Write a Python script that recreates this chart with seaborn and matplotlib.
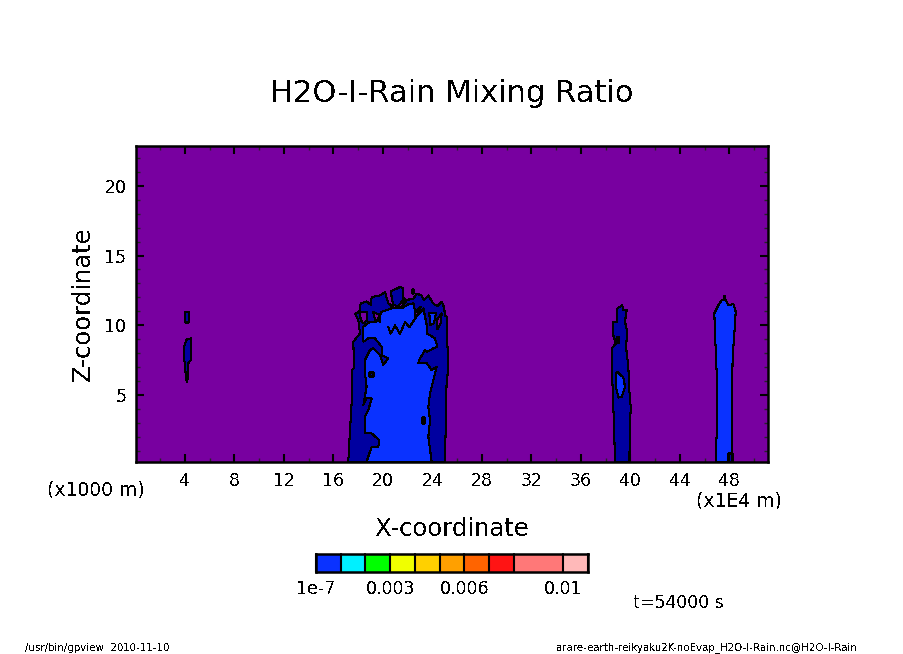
"""H2O-I-Rain mixing ratio cross section (gpview style)."""

import matplotlib
import matplotlib.pyplot as plt
import numpy as np
import seaborn as sns
from matplotlib.colors import ListedColormap
from matplotlib.ticker import MultipleLocator

matplotlib.use("Agg")

PURPLE = "#7800a0"
DARK_BLUE = "#0000a0"
BLUE = "#0a32ff"

# contour outlines: x in 1E4 m, z in 1000 m
main_outer_x = [17.20, 17.34, 17.47, 17.47, 17.66, 17.61, 18.15, 18.01, 17.74, 18.09, 18.20, 18.69, 19.01,
                19.09, 19.77, 20.17, 20.44, 20.84, 20.63, 21.38, 21.65, 21.60, 21.79, 22.46, 22.73, 23.13,
                23.32, 23.67, 24.08, 24.40, 24.75, 24.94, 25.02, 25.15, 25.21, 25.29, 25.15, 25.02]
main_outer_z = [0.22, 2.49, 4.40, 6.79, 6.91, 8.82, 9.42, 10.37, 10.83, 10.95, 11.55, 11.71, 11.47,
                12.02, 12.14, 12.38, 11.55, 11.38, 12.43, 12.74, 12.67, 12.02, 11.79, 11.91, 12.26, 12.14,
                11.79, 12.14, 11.55, 11.38, 11.67, 11.31, 10.71, 10.61, 8.70, 6.79, 6.07, 0.22]
main_inner_x = [18.68, 19.09, 19.63, 19.71, 19.09, 18.55, 18.55, 18.82, 19.09, 18.68, 18.42, 18.68, 18.55,
                18.55, 18.95, 19.22, 19.76, 20.03, 20.44, 19.90, 19.90, 19.36, 18.82, 18.42, 18.42, 18.95,
                19.49, 19.90, 20.71, 21.51, 22.05, 22.46, 22.59, 23.00, 23.27, 23.54, 23.54, 24.21, 24.40,
                24.07, 23.54, 23.40, 23.00, 22.86, 23.54, 23.94, 24.34, 23.81, 23.67, 23.81, 23.67, 23.94]
main_inner_z = [0.22, 1.29, 1.29, 1.77, 2.25, 2.25, 3.44, 3.92, 4.76, 4.76, 4.28, 5.59, 6.55,
                7.51, 8.22, 8.34, 7.87, 7.15, 7.63, 7.87, 8.46, 9.06, 9.06, 8.82, 9.90, 10.26,
                10.26, 10.97, 11.21, 11.21, 11.50, 11.57, 11.09, 10.85, 11.21, 10.02, 9.42, 9.06, 8.46,
                8.34, 8.10, 8.22, 7.63, 7.27, 7.27, 6.79, 7.03, 5.12, 4.16, 3.20, 2.01, 0.22]
hole1_x = [18.15, 18.74, 18.74, 18.42, 18.20]
hole1_z = [10.97, 10.97, 10.37, 10.14, 10.37]
hole2_x = [19.22, 19.76, 19.76, 19.36]
hole2_z = [10.97, 10.73, 10.26, 10.37]
hole3_x = [24.34, 24.75, 24.67, 24.40]
hole3_z = [10.37, 10.85, 10.14, 9.70]
hole4_x = [22.59, 23.05, 22.86, 22.59]
hole4_z = [10.97, 11.33, 10.73, 10.57]
crescent_x = [20.63, 21.25, 21.73, 21.87, 21.38, 20.71]
crescent_z = [11.47, 11.38, 11.91, 11.71, 11.24, 11.24]
top_pocket_x = [23.75, 24.29, 24.13, 23.81]
top_pocket_z = [10.90, 10.90, 10.14, 10.02]
squiggle_x = [20.44, 20.63, 20.98, 21.38, 21.79, 22.14, 22.87]
squiggle_z = [9.87, 9.40, 9.99, 9.40, 10.23, 9.87, 10.83]
island_x = [22.32, 22.46, 22.46, 22.32]
island_z = [12.57, 12.57, 12.29, 12.29]
dot1_x = [18.90, 19.17, 19.17, 18.90]
dot1_z = [6.67, 6.67, 6.36, 6.36]
dot2_x = [23.13, 23.32, 23.32, 23.13]
dot2_z = [3.44, 3.44, 3.01, 3.01]

plume3_outer_x = [38.76, 38.68, 38.57, 38.49, 38.84, 38.57, 38.57, 38.95, 38.95, 39.35, 39.43, 39.70, 39.57,
                  39.76, 39.65, 39.84, 39.92, 40.03, 39.97, 39.92]
plume3_outer_z = [0.21, 2.96, 5.35, 8.34, 8.70, 9.41, 10.25, 10.25, 11.21, 11.44, 11.09, 11.09, 10.25,
                  9.53, 8.46, 7.02, 5.35, 4.15, 2.48, 0.21]
plume3_inner_x = [38.84, 38.95, 39.43, 39.57, 39.30, 39.03, 38.84]
plume3_inner_z = [6.55, 6.66, 6.26, 5.59, 4.87, 4.82, 5.59]
plume3_dot_x = [38.90, 39.11, 39.11, 38.95]
plume3_dot_z = [9.17, 9.17, 8.70, 8.70]

plume4_x = [46.90, 46.98, 46.98, 46.85, 46.79, 47.12, 47.38, 47.74, 47.92, 48.33, 48.52, 48.41, 48.27, 48.19, 48.19]
plume4_z = [0.21, 2.24, 6.55, 9.41, 10.85, 11.44, 11.80, 11.80, 11.44, 11.52, 10.97, 9.41, 7.74, 2.96, 0.21]
plume4_foot_x = [47.92, 48.19, 48.19, 47.92]
plume4_foot_z = [0.21, 0.21, 0.81, 0.81]
plume4_tip_x = [47.60, 47.60]
plume4_tip_z = [12.16, 11.99]

plume1_top_x = [4.00, 4.35, 4.35, 4.14, 4.03]
plume1_top_z = [10.93, 10.93, 10.26, 10.14, 10.26]
plume1_low_x = [3.92, 4.14, 4.46, 4.46, 4.27, 4.19, 4.08, 4.00, 3.92]
plume1_low_z = [8.46, 8.99, 9.06, 7.51, 7.27, 5.95, 6.07, 7.27, 7.51]

x_ticks = [4, 8, 12, 16, 20, 24, 28, 32, 36, 40, 44, 48]
z_ticks = [5, 10, 15, 20]

# colour bar, one cell per 0.001; 0.008-0.01 shares a colour
bar_colors = ["#0a32ff", "#00f0ff", "#00ff00", "#f0ff00", "#ffd000", "#ffa000", "#ff6400", "#ff1414", "#ff7878",
              "#ffb9b9"]
bar_cells = [0, 1, 2, 3, 4, 5, 6, 7, 8, 8, 9]
bar_edges = [0, 1, 2, 3, 4, 5, 6, 7, 8, 10, 11]
bar_tick_pos = [0, 3, 6, 10]
bar_tick_labels = ["1e-7", "0.003", "0.006", "0.01"]


def draw_region(ax, xs, zs, color):
    """塗りつぶしと黒い等値線を描く。"""
    ax.fill(xs, zs, color=color, lw=0, zorder=2)
    draw_line(ax, list(xs) + [xs[0]], list(zs) + [zs[0]])


def draw_line(ax, xs, zs):
    sns.lineplot(x=xs, y=zs, sort=False, estimator=None, color="black", lw=0.75, ax=ax, zorder=3,
                 antialiased=False)


def main():
    sns.set_theme(style="ticks")
    plt.rcParams["font.family"] = ["DejaVu Sans"]
    plt.rcParams["text.color"] = "black"
    plt.rcParams["text.antialiased"] = False

    fig = plt.figure(figsize=(9.04, 6.54), dpi=100, facecolor="white")
    W, H = 904, 654
    ax = fig.add_axes([136 / W, 1 - 462 / H, 632 / W, 316 / H])
    ax.set_facecolor(PURPLE)

    draw_region(ax, plume1_top_x, plume1_top_z, DARK_BLUE)
    draw_region(ax, plume1_low_x, plume1_low_z, DARK_BLUE)

    draw_region(ax, main_outer_x, main_outer_z, DARK_BLUE)
    draw_region(ax, main_inner_x, main_inner_z, BLUE)
    draw_region(ax, hole1_x, hole1_z, PURPLE)
    draw_region(ax, hole2_x, hole2_z, PURPLE)
    draw_region(ax, hole3_x, hole3_z, PURPLE)
    draw_region(ax, hole4_x, hole4_z, PURPLE)
    draw_region(ax, crescent_x, crescent_z, PURPLE)
    draw_region(ax, top_pocket_x, top_pocket_z, BLUE)
    draw_region(ax, island_x, island_z, DARK_BLUE)
    draw_region(ax, dot1_x, dot1_z, DARK_BLUE)
    draw_region(ax, dot2_x, dot2_z, DARK_BLUE)
    draw_line(ax, squiggle_x, squiggle_z)

    draw_region(ax, plume3_outer_x, plume3_outer_z, DARK_BLUE)
    draw_region(ax, plume3_inner_x, plume3_inner_z, BLUE)
    draw_region(ax, plume3_dot_x, plume3_dot_z, DARK_BLUE)

    draw_region(ax, plume4_x, plume4_z, BLUE)
    draw_region(ax, plume4_foot_x, plume4_foot_z, DARK_BLUE)
    draw_line(ax, plume4_tip_x, plume4_tip_z)

    ax.set_xlim(0.04, 51.13)
    ax.set_ylim(0.2, 22.85)
    ax.set_xticks(x_ticks)
    ax.set_yticks(z_ticks)
    ax.xaxis.set_minor_locator(MultipleLocator(2))
    ax.yaxis.set_minor_locator(MultipleLocator(1))
    ax.tick_params(which="major", direction="in", length=6, width=1.5, top=True, right=True,
                   labelsize=12.5, pad=7, colors="black")
    ax.tick_params(which="minor", direction="in", length=3, width=1.0, top=True, right=True)
    for spine in ax.spines.values():
        spine.set_visible(True)
        spine.set_linewidth(1.8)
        spine.set_color("black")
    ax.set_xlabel("")
    ax.set_ylabel("")

    fig.text(452 / W, 1 - 93 / H, "H2O-I-Rain Mixing Ratio", fontsize=22, ha="center", va="center")
    fig.text(452 / W, 1 - 529 / H, "X-coordinate", fontsize=17.5, ha="center", va="center")
    fig.text(83 / W, 1 - 304 / H, "Z-coordinate", fontsize=17.5, rotation=90, ha="center", va="center")
    fig.text(95.5 / W, 1 - 490 / H, "(x1000 m)", fontsize=13.5, ha="center", va="center")
    fig.text(739 / W, 1 - 501 / H, "(x1E4 m)", fontsize=13.5, ha="center", va="center")
    fig.text(678 / W, 1 - 603 / H, "t=54000 s", fontsize=12.5, ha="center", va="center")
    fig.text(25 / W, 1 - 648 / H, "/usr/bin/gpview  2010-11-10", fontsize=7.4, ha="left", va="center")
    fig.text(857 / W, 1 - 648 / H, "arare-earth-reikyaku2K-noEvap_H2O-I-Rain.nc@H2O-I-Rain", fontsize=7.4,
             ha="right", va="center")

    # カラーバー
    cax = fig.add_axes([316 / W, 1 - 572 / H, 272 / W, 18 / H])
    sns.heatmap(np.array([bar_cells]), cmap=ListedColormap(bar_colors), vmin=-0.5, vmax=9.5, cbar=False,
                xticklabels=False, yticklabels=False, ax=cax)
    for edge in bar_edges:
        cax.axvline(edge, color="black", lw=1.5, clip_on=False)
    cax.set_xticks(bar_tick_pos)
    cax.set_xticklabels(bar_tick_labels, rotation=0, fontsize=12.5)
    cax.tick_params(axis="x", length=0, pad=6, colors="black")
    cax.tick_params(axis="y", left=False)
    for spine in cax.spines.values():
        spine.set_visible(True)
        spine.set_linewidth(1.8)
        spine.set_color("black")

    fig.savefig("out.png", dpi=100, facecolor="white")


if __name__ == "__main__":
    main()
